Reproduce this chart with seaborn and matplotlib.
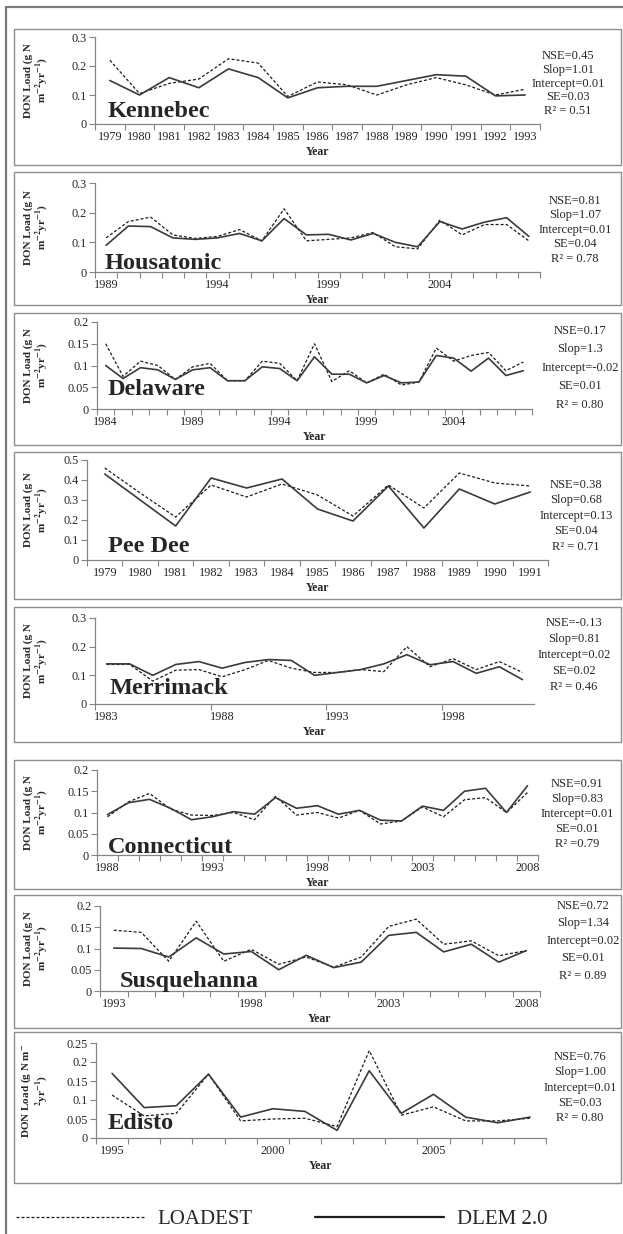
import numpy as np
import pandas as pd
import matplotlib.pyplot as plt
import matplotlib.transforms as mtransforms
from matplotlib.patches import Rectangle
from matplotlib.lines import Line2D
import seaborn as sns

# Style
sns.set_style("white")
plt.rcParams['font.family'] = ['Liberation Serif', 'DejaVu Serif']
plt.rcParams['mathtext.fontset'] = 'stix'

W, H = 623, 1234

# -----------------------------
# DATA  (DON load, g N m-2 yr-1)
# -----------------------------
kennebec_years = list(range(1979, 1994))
kennebec_dlem = [0.15, 0.10, 0.16, 0.125, 0.19, 0.16, 0.09, 0.125, 0.13, 0.13, 0.15, 0.17, 0.165, 0.097, 0.10]
kennebec_loadest = [0.22, 0.105, 0.14, 0.155, 0.225, 0.21, 0.095, 0.145, 0.135, 0.10, 0.135, 0.16, 0.135, 0.10, 0.12]

housatonic_years = list(range(1989, 2009))
housatonic_dlem = [0.09, 0.155, 0.153, 0.115, 0.11, 0.115, 0.13, 0.105, 0.18, 0.125, 0.127, 0.108, 0.13, 0.10,
                   0.085, 0.17, 0.145, 0.168, 0.183, 0.12]
housatonic_loadest = [0.115, 0.17, 0.185, 0.125, 0.113, 0.12, 0.143, 0.105, 0.213, 0.105, 0.11, 0.115, 0.133, 0.085,
                      0.078, 0.175, 0.125, 0.16, 0.16, 0.105]

delaware_years = list(range(1984, 2009))
delaware_dlem = [0.10, 0.07, 0.095, 0.09, 0.068, 0.09, 0.095, 0.065, 0.065, 0.097, 0.093, 0.065, 0.12, 0.08, 0.08,
                 0.06, 0.077, 0.06, 0.062, 0.123, 0.117, 0.087, 0.117, 0.077, 0.088]
delaware_loadest = [0.15, 0.075, 0.11, 0.10, 0.068, 0.097, 0.105, 0.065, 0.065, 0.11, 0.105, 0.065, 0.15, 0.063, 0.088,
                    0.06, 0.08, 0.055, 0.062, 0.14, 0.11, 0.123, 0.13, 0.088, 0.108]

peedee_years = list(range(1979, 1992))
peedee_dlem = [0.43, 0.30, 0.17, 0.41, 0.36, 0.405, 0.255, 0.195, 0.37, 0.16, 0.355, 0.28, 0.34]
peedee_loadest = [0.46, 0.335, 0.215, 0.375, 0.315, 0.38, 0.325, 0.22, 0.375, 0.26, 0.435, 0.385, 0.37]

merrimack_years = list(range(1983, 2002))
merrimack_dlem = [0.14, 0.14, 0.10, 0.138, 0.148, 0.125, 0.145, 0.155, 0.152, 0.10, 0.11, 0.12, 0.14, 0.172, 0.137,
                  0.148, 0.107, 0.13, 0.085]
merrimack_loadest = [0.138, 0.138, 0.08, 0.118, 0.12, 0.095, 0.12, 0.152, 0.125, 0.11, 0.11, 0.12, 0.113, 0.20, 0.13,
                     0.158, 0.12, 0.148, 0.11]

connecticut_years = list(range(1988, 2009))
connecticut_dlem = [0.095, 0.123, 0.131, 0.11, 0.083, 0.09, 0.102, 0.096, 0.135, 0.11, 0.116, 0.096, 0.105, 0.082,
                    0.08, 0.115, 0.105, 0.15, 0.157, 0.10, 0.163]
connecticut_loadest = [0.09, 0.125, 0.145, 0.108, 0.094, 0.093, 0.10, 0.083, 0.138, 0.094, 0.10, 0.087, 0.105, 0.073,
                       0.08, 0.113, 0.09, 0.13, 0.135, 0.10, 0.147]

susquehanna_years = list(range(1993, 2009))
susquehanna_dlem = [0.101, 0.10, 0.08, 0.125, 0.087, 0.093, 0.05, 0.084, 0.055, 0.068, 0.131, 0.138, 0.092, 0.11,
                    0.068, 0.095]
susquehanna_loadest = [0.143, 0.138, 0.07, 0.164, 0.07, 0.098, 0.063, 0.08, 0.056, 0.08, 0.152, 0.169, 0.11, 0.118,
                       0.083, 0.095]

edisto_years = list(range(1995, 2009))
edisto_dlem = [0.17, 0.08, 0.085, 0.168, 0.055, 0.077, 0.07, 0.02, 0.177, 0.065, 0.115, 0.055, 0.04, 0.055]
edisto_loadest = [0.113, 0.058, 0.065, 0.168, 0.045, 0.05, 0.052, 0.03, 0.23, 0.06, 0.082, 0.045, 0.045, 0.052]

kennebec_stats = ["NSE=0.45", "Slop=1.01", "Intercept=0.01", "SE=0.03", "R² = 0.51"]
housatonic_stats = ["NSE=0.81", "Slop=1.07", "Intercept=0.01", "SE=0.04", "R² = 0.78"]
delaware_stats = ["NSE=0.17", "Slop=1.3", "Intercept=-0.02", "SE=0.01", "R² = 0.80"]
peedee_stats = ["NSE=0.38", "Slop=0.68", "Intercept=0.13", "SE=0.04", "R² = 0.71"]
merrimack_stats = ["NSE=-0.13", "Slop=0.81", "Intercept=0.02", "SE=0.02", "R² = 0.46"]
connecticut_stats = ["NSE=0.91", "Slop=0.83", "Intercept=0.01", "SE=0.01", "R² =0.79"]
susquehanna_stats = ["NSE=0.72", "Slop=1.34", "Intercept=0.02", "SE=0.01", "R² = 0.89"]
edisto_stats = ["NSE=0.76", "Slop=1.00", "Intercept=0.01", "SE=0.03", "R² = 0.80"]

ylab = "DON Load (g N\nm$^{\\mathbf{-2}}$yr$^{\\mathbf{-1}}$)"
ylab_edisto = "DON Load (g N m$^{\\mathbf{-}}$\n$^{\\mathbf{2}}$yr$^{\\mathbf{-1}}$)"

# -----------------------------
# LAYOUT (pixel positions in the 623x1234 picture)
# box: panel frame top/bottom, ax: top/bottom/left/right of plot area
# -----------------------------
panels = [
    dict(name="Kennebec", years=kennebec_years, dlem=kennebec_dlem, loadest=kennebec_loadest, stats=kennebec_stats,
         ymax=0.3, ystep=0.1, lab_every=1, tick_every=1, box=(29, 165), ax=(37, 124, 95, 540),
         stat_x=568, stat_span=(0.78, 0.15), name_x=108, name_y=0.085, ylabel=ylab),
    dict(name="Housatonic", years=housatonic_years, dlem=housatonic_dlem, loadest=housatonic_loadest,
         stats=housatonic_stats, ymax=0.3, ystep=0.1, lab_every=5, tick_every=1, box=(172, 305),
         ax=(183, 272, 95, 540), stat_x=575, stat_span=(0.8, 0.15), name_x=105, name_y=0.03, ylabel=ylab),
    dict(name="Delaware", years=delaware_years, dlem=delaware_dlem, loadest=delaware_loadest, stats=delaware_stats,
         ymax=0.2, ystep=0.05, lab_every=5, tick_every=1, box=(313, 445), ax=(322, 409, 97, 532),
         stat_x=580, stat_span=(0.9, 0.05), name_x=108, name_y=0.16, ylabel=ylab),
    dict(name="Pee Dee", years=peedee_years, dlem=peedee_dlem, loadest=peedee_loadest, stats=peedee_stats,
         ymax=0.5, ystep=0.1, lab_every=1, tick_every=1, box=(452, 599), ax=(460, 560, 87, 548),
         stat_x=576, stat_span=(0.75, 0.13), name_x=108, name_y=0.08, ylabel=ylab),
    dict(name="Merrimack", years=merrimack_years, dlem=merrimack_dlem, loadest=merrimack_loadest,
         stats=merrimack_stats, ymax=0.3, ystep=0.1, lab_every=5, tick_every=5, box=(607, 742),
         ax=(618, 704, 95, 534), stat_x=574, stat_span=(0.94, 0.2), name_x=110, name_y=0.12, ylabel=ylab),
    dict(name="Connecticut", years=connecticut_years, dlem=connecticut_dlem, loadest=connecticut_loadest,
         stats=connecticut_stats, ymax=0.2, ystep=0.05, lab_every=5, tick_every=1, box=(760, 889),
         ax=(770, 855, 97, 538), stat_x=577, stat_span=(0.84, 0.13), name_x=108, name_y=0.02, ylabel=ylab),
    dict(name="Susquehanna", years=susquehanna_years, dlem=susquehanna_dlem, loadest=susquehanna_loadest,
         stats=susquehanna_stats, ymax=0.2, ystep=0.05, lab_every=5, tick_every=1, box=(895, 1028),
         ax=(906, 991, 100, 540), stat_x=583, stat_span=(1.0, 0.18), name_x=120, name_y=0.05, ylabel=ylab),
    dict(name="Edisto", years=edisto_years, dlem=edisto_dlem, loadest=edisto_loadest, stats=edisto_stats,
         ymax=0.25, ystep=0.05, lab_every=5, tick_every=1, box=(1032, 1183), ax=(1043, 1138, 96, 546),
         stat_x=580, stat_span=(0.85, 0.21), name_x=108, name_y=0.09, ylabel=ylab_edisto),
]

AXIS_COLOR = "#858585"
DASH = (0, (2.4, 1.6))

fig = plt.figure(figsize=(W / 100, H / 100), dpi=100)

# outer frame (left + top)
fig.add_artist(Line2D([6 / W, 6 / W], [0, 1 - 7 / H], transform=fig.transFigure, color="#7a7a7a", lw=1.6))
fig.add_artist(Line2D([6 / W, 1], [1 - 7 / H, 1 - 7 / H], transform=fig.transFigure, color="#7a7a7a", lw=1.6))

for p in panels:
    top, bot, left, right = p["ax"]
    ax = fig.add_axes([left / W, 1 - bot / H, (right - left) / W, (bot - top) / H])

    # panel frame
    bt, bb = p["box"]
    fig.add_artist(Rectangle((14 / W, 1 - bb / H), (621 - 14) / W, (bb - bt) / H, transform=fig.transFigure,
                             fill=False, ec="#8e8e8e", lw=1.0))

    n = len(p["years"])
    pos = list(range(n))
    sns.lineplot(x=pos, y=p["loadest"], ax=ax, color="#1c1c1c", lw=0.9, linestyle=DASH, legend=False)
    sns.lineplot(x=pos, y=p["dlem"], ax=ax, color="#3a3a3a", lw=1.2, legend=False)

    ax.set_xlim(-0.5, n - 0.5)
    ax.set_ylim(0, p["ymax"])
    yt = np.round(np.arange(0, p["ymax"] + 1e-9, p["ystep"]), 3)
    ax.set_yticks(yt)
    ax.set_yticklabels([f"{v:g}" for v in yt])

    lab_pos = pos[::p["lab_every"]]
    ax.set_xticks(lab_pos)
    ax.set_xticklabels([str(p["years"][i]) for i in lab_pos])
    ax.set_xticks(np.arange(-0.5, n, p["tick_every"]), minor=True)
    ax.tick_params(axis="x", which="major", length=0, pad=5, labelsize=8.8)
    ax.tick_params(axis="x", which="minor", length=4, width=0.8, color=AXIS_COLOR, direction="out")
    ax.tick_params(axis="y", length=4, width=0.8, color=AXIS_COLOR, direction="out", pad=2, labelsize=8.8)
    ax.xaxis.set_ticks_position("bottom")
    ax.yaxis.set_ticks_position("left")

    sns.despine(ax=ax)
    for side in ["left", "bottom"]:
        ax.spines[side].set_color(AXIS_COLOR)
        ax.spines[side].set_linewidth(0.9)

    ax.set_xlabel("Year", fontsize=8.5, fontweight="bold", labelpad=2)
    ax.set_ylabel(p["ylabel"], fontsize=8, fontweight="bold", linespacing=1.0)
    ax.yaxis.set_label_coords((50 - left) / (right - left), 0.5)

    # river name
    ax.text((p["name_x"] - left) / (right - left), p["name_y"], p["name"], transform=ax.transAxes,
            fontsize=17.5, fontweight="bold", ha="left", va="baseline")

    # fit statistics
    trans = mtransforms.blended_transform_factory(fig.transFigure, ax.transAxes)
    ys = np.linspace(p["stat_span"][0], p["stat_span"][1], len(p["stats"]))
    for s, yv in zip(p["stats"], ys):
        ax.text(p["stat_x"] / W, yv, s, transform=trans, fontsize=9, ha="center", va="center", clip_on=False)

# -----------------------------
# LEGEND
# -----------------------------
handles = [Line2D([], [], color="#1c1c1c", lw=0.9, linestyle=DASH),
           Line2D([], [], color="#1c1c1c", lw=1.6)]
fig.legend(handles, ["LOADEST", "DLEM 2.0"], loc="center left", bbox_to_anchor=(16 / W, 1 - 1219 / H),
           ncol=2, frameon=False, fontsize=15, handlelength=6.2, handletextpad=0.6, columnspacing=3.0,
           borderpad=0, borderaxespad=0)

fig.savefig("out.png", dpi=100)
